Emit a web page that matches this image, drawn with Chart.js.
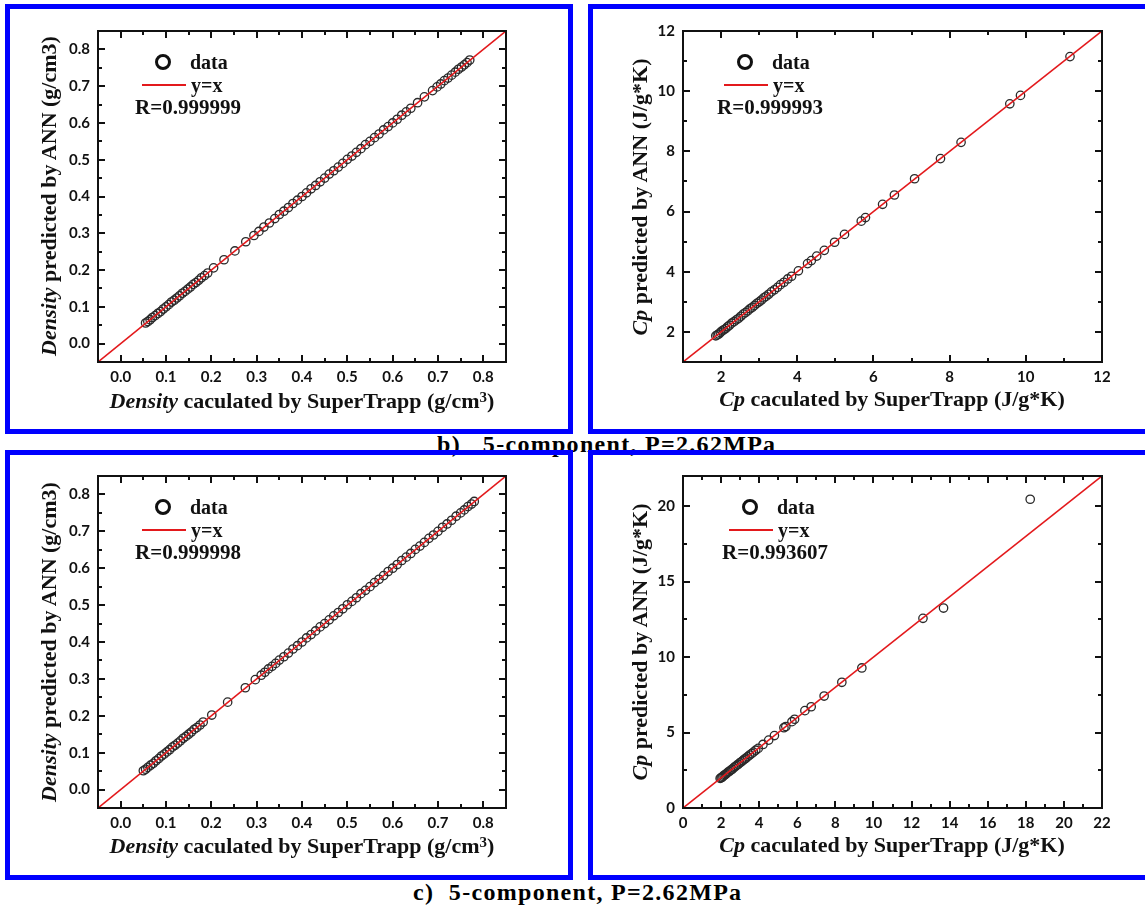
<!DOCTYPE html>
<html>
<head>
<meta charset="utf-8">
<script src="https://cdn.jsdelivr.net/npm/chart.js@4.4.1/dist/chart.umd.min.js"></script>
<style>
  html, body { margin: 0; padding: 0; background: #fff; }
  body { width: 1145px; height: 905px; position: relative; overflow: hidden; font-family: 'Liberation Serif', 'Times New Roman', serif; }
  .panel { position: absolute; box-sizing: border-box; border: 5px solid #0000ff; z-index: 1; }
  .panel canvas { position: absolute; left: 0; top: 0; }
  .txt { position: absolute; font-weight: bold; color: #111; white-space: nowrap; line-height: 1; z-index: 2; }
  .title { font-size: 22px; transform: translate(-50%, -50%); }
  .ytitle { font-size: 22px; transform: translate(-50%, -50%) rotate(-90deg); }
  .title sup { font-size: 15px; vertical-align: 6px; line-height: 0; }
  .caption { position: absolute; font-weight: bold; font-size: 24px; line-height: 1; white-space: pre; color: #000; letter-spacing: 1.3px; z-index: 0; }
  .lcircle { position: absolute; box-sizing: border-box; width: 16px; height: 16px; border: 3px solid #111; border-radius: 50%; z-index: 2; }
  .lline { position: absolute; height: 2px; background: #e3191c; z-index: 2; }
</style>
</head>
<body>
<div class="caption" style="left:437px; top:432px;">b)   5-component, P=2.62MPa</div>
<div class="caption" style="left:413px; top:880px;">c)  5-component, P=2.62MPa</div>

<script>
// b) density: SuperTrapp vs ANN
const densXb = [0.055,0.060,0.065,0.070,0.076,0.082,0.088,0.094,0.100,0.106,0.112,0.118,0.124,0.130,0.136,0.142,0.148,0.154,0.160,0.166,0.172,0.178,0.185,0.192,
  0.205,0.228,0.252,0.276,0.294,0.305,0.316,0.328,0.340,
  0.350,0.360,0.370,0.380,0.390,0.400,0.410,0.420,0.430,0.440,0.450,0.460,0.470,0.480,0.490,0.500,0.510,0.520,0.530,0.540,0.550,0.560,0.570,0.580,0.590,0.600,0.610,0.620,0.630,0.640,
  0.655,0.670,0.688,0.698,0.706,0.714,0.722,0.730,0.738,0.745,0.752,0.758,0.764,0.770];
const densYb = [0.056,0.060,0.065,0.071,0.076,0.082,0.087,0.094,0.100,0.106,0.113,0.118,0.124,0.130,0.137,0.142,0.148,0.154,0.161,0.166,0.172,0.179,0.185,0.192,
  0.206,0.228,0.252,0.277,0.294,0.305,0.317,0.328,0.340,
  0.351,0.360,0.370,0.381,0.390,0.400,0.410,0.421,0.430,0.440,0.450,0.461,0.470,0.480,0.490,0.501,0.510,0.520,0.530,0.541,0.550,0.560,0.570,0.581,0.590,0.600,0.610,0.621,0.630,0.640,
  0.655,0.671,0.688,0.698,0.706,0.715,0.722,0.730,0.738,0.746,0.752,0.758,0.764,0.771];

// b) Cp
const cpXb = [1.86,1.90,1.94,1.98,2.02,2.07,2.12,2.17,2.22,2.28,2.34,2.40,2.46,2.52,2.58,2.64,2.70,2.76,2.82,2.88,2.94,3.00,3.06,3.12,3.18,3.25,3.32,3.40,3.48,3.56,3.65,3.75,3.85,
  4.03,4.27,4.37,4.51,4.71,4.98,5.24,5.68,5.79,6.24,6.55,7.08,7.76,8.30,9.58,9.86,11.16];
const cpYb = [1.87,1.90,1.93,1.98,2.03,2.07,2.11,2.17,2.22,2.29,2.34,2.40,2.45,2.52,2.59,2.64,2.70,2.77,2.82,2.88,2.95,3.00,3.06,3.13,3.18,3.25,3.33,3.40,3.48,3.57,3.65,3.76,3.85,
  4.03,4.27,4.37,4.52,4.71,4.98,5.24,5.68,5.80,6.24,6.55,7.09,7.76,8.30,9.58,9.86,11.15];

// c) density
const densXc = [0.050,0.055,0.060,0.066,0.072,0.078,0.084,0.090,0.096,0.102,0.108,0.114,0.120,0.126,0.132,0.138,0.144,0.150,0.156,0.162,0.168,0.175,0.182,
  0.201,0.236,0.275,0.297,0.310,0.318,0.326,0.334,0.342,
  0.350,0.360,0.370,0.380,0.390,0.400,0.410,0.420,0.430,0.440,0.450,0.460,0.470,0.480,0.490,0.500,0.510,0.520,0.530,0.540,0.550,
  0.560,0.570,0.580,0.590,0.600,0.610,0.620,0.630,0.640,0.650,0.660,0.670,0.680,0.690,0.700,0.710,0.720,0.730,0.740,0.750,
  0.758,0.766,0.774,0.780];
const densYc = [0.051,0.055,0.060,0.066,0.071,0.078,0.084,0.091,0.096,0.102,0.108,0.115,0.120,0.126,0.132,0.139,0.144,0.150,0.156,0.163,0.168,0.175,0.183,
  0.202,0.237,0.276,0.298,0.310,0.318,0.327,0.334,0.342,
  0.351,0.360,0.370,0.381,0.390,0.400,0.411,0.420,0.430,0.441,0.450,0.460,0.471,0.480,0.490,0.501,0.510,0.520,0.531,0.540,0.550,
  0.561,0.570,0.580,0.591,0.600,0.610,0.621,0.630,0.640,0.651,0.660,0.670,0.681,0.690,0.700,0.711,0.720,0.730,0.741,0.750,
  0.758,0.767,0.774,0.781];

// c) Cp
const cpXc = [1.95,2.00,2.05,2.10,2.16,2.22,2.28,2.35,2.42,2.50,2.58,2.66,2.74,2.82,2.90,2.98,3.06,3.14,3.22,3.30,3.40,3.50,3.60,3.70,3.82,3.95,
  4.20,4.50,4.80,5.30,5.40,5.72,5.86,6.40,6.73,7.41,8.34,9.39,12.60,13.68,18.23];
const cpYc = [1.96,2.00,2.04,2.10,2.17,2.22,2.28,2.36,2.42,2.50,2.57,2.66,2.75,2.82,2.90,2.99,3.06,3.14,3.23,3.30,3.40,3.51,3.60,3.70,3.83,3.95,
  4.21,4.50,4.80,5.32,5.40,5.72,5.88,6.45,6.71,7.42,8.33,9.28,12.57,13.25,20.46];

// y=x reference lines (axis ends)
const densLine = [-0.05, 0.85];
const cpLineB = [1, 12];
const cpLineC = [0, 22];

// tick values
const densTicks = [0.0, 0.1, 0.2, 0.3, 0.4, 0.5, 0.6, 0.7, 0.8];
const densMinor = [0.05, 0.15, 0.25, 0.35, 0.45, 0.55, 0.65, 0.75];
const cpTicksB = [2, 4, 6, 8, 10, 12];
const cpMinorB = [3, 5, 7, 9, 11];
const cpTicksCx = [0, 2, 4, 6, 8, 10, 12, 14, 16, 18, 20, 22];
const cpMinorCx = [1, 3, 5, 7, 9, 11, 13, 15, 17, 19, 21];
const cpTicksCy = [0, 5, 10, 15, 20];
const cpMinorCy = [2.5, 7.5, 12.5, 17.5];

const RED = '#e3191c';

// frame + inward ticks on all four sides
const framePlugin = {
  id: 'frame',
  afterDatasetsDraw(chart, args, opts) {
    const { ctx, chartArea: a, scales } = chart;
    ctx.save();
    ctx.strokeStyle = '#111';
    ctx.lineWidth = 2;
    ctx.beginPath();
    const xTicks = (vals, len) => vals.forEach(v => {
      const p = Math.round(scales.x.getPixelForValue(v));
      ctx.moveTo(p, a.bottom); ctx.lineTo(p, a.bottom - len);
      ctx.moveTo(p, a.top); ctx.lineTo(p, a.top + len);
    });
    const yTicks = (vals, len) => vals.forEach(v => {
      const p = Math.round(scales.y.getPixelForValue(v));
      ctx.moveTo(a.left, p); ctx.lineTo(a.left + len, p);
      ctx.moveTo(a.right, p); ctx.lineTo(a.right - len, p);
    });
    xTicks(opts.xMajor, 7); xTicks(opts.xMinor, 4);
    yTicks(opts.yMajor, 7); yTicks(opts.yMinor, 4);
    ctx.stroke();
    ctx.strokeRect(a.left, a.top, a.width, a.height);
    ctx.restore();
  }
};

const panels = [
  { box: [5, 4], pad: { left: 28, top: 22, right: 62, bottom: 37 },
    xs: densXb, ys: densYb, line: densLine, xMajor: densTicks, xMinor: densMinor, yMajor: densTicks, yMinor: densMinor, fmt: v => v.toFixed(1),
    xTitle: '<i>Density</i> caculated by SuperTrapp (g/cm<sup>3</sup>)', yTitle: '<i>Density</i> predicted by ANN (g/cm3)',
    xt: [302, 401], yt: [49, 196], leg: [163, 62], r: 'R=0.999999' },
  { box: [588, 4], pad: { left: 30, top: 22, right: 43, bottom: 37 },
    xs: cpXb, ys: cpYb, line: cpLineB, xMajor: cpTicksB, xMinor: cpMinorB, yMajor: cpTicksB, yMinor: cpMinorB, fmt: v => String(v),
    xTitle: '<i>Cp</i> caculated by SuperTrapp (J/g*K)', yTitle: '<i>Cp</i> predicted by ANN (J/g*K)',
    xt: [892, 399], yt: [640, 197], leg: [745, 62], r: 'R=0.999993' },
  { box: [5, 450], pad: { left: 28, top: 21, right: 62, bottom: 37 },
    xs: densXc, ys: densYc, line: densLine, xMajor: densTicks, xMinor: densMinor, yMajor: densTicks, yMinor: densMinor, fmt: v => v.toFixed(1),
    xTitle: '<i>Density</i> caculated by SuperTrapp (g/cm<sup>3</sup>)', yTitle: '<i>Density</i> predicted by ANN (g/cm3)',
    xt: [302, 846], yt: [49, 642], leg: [163, 507], r: 'R=0.999998' },
  { box: [588, 450], pad: { left: 30, top: 21, right: 43, bottom: 37 },
    xs: cpXc, ys: cpYc, line: cpLineC, xMajor: cpTicksCx, xMinor: cpMinorCx, yMajor: cpTicksCy, yMinor: cpMinorCy, fmt: v => String(v),
    xTitle: '<i>Cp</i> caculated by SuperTrapp (J/g*K)', yTitle: '<i>Cp</i> predicted by ANN (J/g*K)',
    xt: [892, 845], yt: [640, 642], leg: [750, 507], r: 'R=0.993607' }
];

function addText(html, cls, x, y, size) {
  const d = document.createElement('div');
  d.className = 'txt ' + cls;
  d.innerHTML = html;
  d.style.left = x + 'px';
  d.style.top = y + 'px';
  if (size) d.style.fontSize = size + 'px';
  document.body.appendChild(d);
  return d;
}

panels.forEach((p, i) => {
  const box = document.createElement('div');
  box.className = 'panel';
  box.style.left = p.box[0] + 'px';
  box.style.top = p.box[1] + 'px';
  box.style.width = (p.box[0] > 300 ? 562 : 568) + 'px';
  box.style.height = '430px';
  const cv = document.createElement('canvas');
  cv.width = (p.box[0] > 300 ? 552 : 558);
  cv.height = 420;
  box.appendChild(cv);
  document.body.appendChild(box);

  const tickFont = { family: 'Lato', weight: 'bold', size: 15 };
  new Chart(cv, {
    type: 'scatter',
    data: {
      datasets: [
        {
          data: p.line.map(v => ({ x: v, y: v })),
          showLine: true,
          borderColor: RED,
          borderWidth: 1.6,
          pointRadius: 0,
          order: 0
        },
        {
          data: p.xs.map((x, k) => ({ x: x, y: p.ys[k] })),
          pointRadius: 4.2,
          pointBorderColor: '#2a2a2a',
          pointBackgroundColor: 'rgba(0,0,0,0)',
          pointBorderWidth: 1.3,
          order: 1
        }
      ]
    },
    options: {
      responsive: false,
      animation: false,
      devicePixelRatio: 1,
      layout: { padding: p.pad },
      plugins: { legend: { display: false }, tooltip: { enabled: false },
        frame: { xMajor: p.xMajor, xMinor: p.xMinor, yMajor: p.yMajor, yMinor: p.yMinor } },
      scales: {
        x: {
          type: 'linear', min: p.line[0], max: p.line[1],
          afterBuildTicks: s => { s.ticks = p.xMajor.map(v => ({ value: v })); },
          afterFit: s => { s.height = 30; },
          grid: { display: false, drawTicks: false },
          border: { display: false },
          ticks: { font: tickFont, color: '#111', padding: 6, maxRotation: 0, callback: v => p.fmt(v) }
        },
        y: {
          type: 'linear', min: p.line[0], max: p.line[1],
          afterBuildTicks: s => { s.ticks = p.yMajor.map(v => ({ value: v })); },
          afterFit: s => { s.width = 60; },
          grid: { display: false, drawTicks: false },
          border: { display: false },
          ticks: { font: tickFont, color: '#111', padding: 8, callback: v => p.fmt(v) }
        }
      }
    },
    plugins: [framePlugin]
  });

  // axis titles
  addText(p.xTitle, 'title', p.xt[0], p.xt[1]);
  addText(p.yTitle, 'ytitle', p.yt[0], p.yt[1]);

  // legend
  const [cx, cy] = p.leg;
  const c = document.createElement('div');
  c.className = 'lcircle';
  c.style.left = (cx - 8) + 'px';
  c.style.top = (cy - 8) + 'px';
  document.body.appendChild(c);
  addText('data', '', cx + 27, cy - 10, 20);
  const l = document.createElement('div');
  l.className = 'lline';
  l.style.left = (cx - 21) + 'px';
  l.style.width = '44px';
  l.style.top = (cy + 22) + 'px';
  document.body.appendChild(l);
  addText('y=x', '', cx + 28, cy + 13, 20);
  addText(p.r, '', cx - 28, cy + 35, 21);
});
</script>
</body>
</html>
